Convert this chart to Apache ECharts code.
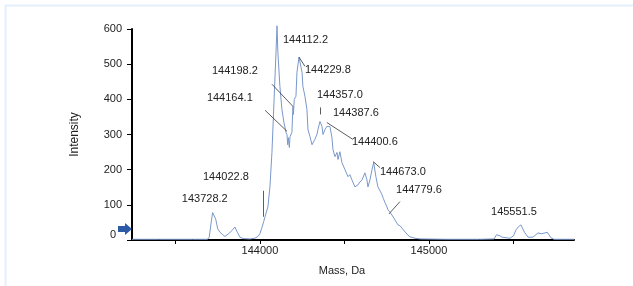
<!DOCTYPE html>
<html>
<head>
<meta charset="utf-8">
<script src="https://cdn.jsdelivr.net/npm/echarts@6/dist/echarts.min.js"></script>
<style>
  html, body { margin: 0; padding: 0; background: #fff; }
  #chart { width: 633px; height: 286px; }
</style>
</head>
<body>
<div id="chart"></div>
<script>
// spectrum trace: [mass Da, intensity]
const spectrum = [
  [143243, 2], [143400, 2], [143600, 2], [143690, 2], [143700, 8], [143710, 45],
  [143720, 78], [143728, 80], [143738, 60], [143750, 32], [143763, 22], [143780, 15],
  [143793, 10], [143820, 20], [143840, 30], [143852, 37], [143866, 22], [143882, 8],
  [143900, 4], [143940, 3], [143970, 5], [143988, 10], [144000, 18], [144012, 36],
  [144022, 52], [144030, 66], [144047, 94], [144059, 151], [144071, 249], [144083, 391],
  [144095, 534], [144101, 609], [144106, 534], [144118, 437], [144130, 371], [144142, 334],
  [144154, 306], [144160, 300], [144164, 271], [144168, 291], [144174, 263], [144178, 294],
  [144189, 306], [144195, 380], [144198, 357], [144203, 400], [144213, 409], [144219, 477],
  [144231, 520], [144249, 477], [144254, 437], [144266, 409], [144278, 371], [144284, 314],
  [144296, 294], [144308, 271], [144314, 266], [144325, 286], [144337, 300], [144343, 314],
  [144355, 337], [144367, 323], [144373, 300], [144385, 314], [144396, 323], [144402, 320],
  [144414, 323], [144426, 291], [144432, 257], [144444, 237], [144456, 249], [144462, 229],
  [144473, 251], [144485, 220], [144503, 200], [144521, 180], [144532, 186], [144544, 171],
  [144562, 151], [144580, 157], [144592, 165], [144604, 171], [144621, 191], [144633, 171],
  [144639, 151], [144651, 171], [144663, 200], [144673, 220], [144686, 180], [144698, 151],
  [144710, 140], [144722, 129], [144730, 118], [144740, 106], [144750, 96], [144757, 86],
  [144768, 80], [144781, 71], [144790, 66], [144799, 57], [144808, 52], [144817, 43],
  [144830, 40], [144840, 34], [144850, 28], [144858, 23], [144875, 14], [144888, 9],
  [144917, 5], [144950, 3], [145100, 2], [145300, 2], [145385, 3], [145400, 15],
  [145408, 20], [145420, 12], [145432, 8], [145479, 5], [145500, 12], [145515, 29],
  [145530, 38], [145544, 43], [145565, 22], [145586, 8], [145615, 8], [145645, 20],
  [145665, 18], [145686, 20], [145700, 22], [145710, 20], [145722, 6], [145740, 2],
  [145858, 2]
];

// peak labels: [text, label mass, label intensity]
const peakLabels = [
  ['144112.2', 144136, 569],
  ['144229.8', 144266, 483],
  ['144357.0', 144337, 413],
  ['144387.6', 144432, 360],
  ['144400.6', 144544, 280],
  ['144673.0', 144710, 194],
  ['144779.6', 144805, 143],
  ['145551.5', 145367, 80],
  ['144022.8', 143663, 180],
  ['143728.2', 143538, 117],
  ['144198.2', 143716, 480],
  ['144164.1', 143686, 403]
];

// leader lines: [[mass, intensity], [mass, intensity]]
const leaders = [
  [[144101, 609], [144136, 583]],
  [[144231, 520], [144266, 494]],
  [[144355, 377], [144355, 357]],
  [[144396, 334], [144550, 286]],
  [[144669, 223], [144710, 206]],
  [[144763, 74], [144828, 109]],
  [[144018, 140], [144018, 66]],
  [[144071, 443], [144195, 380]],
  [[144030, 369], [144160, 309]]
];

const massMin = 143243;
const massMax = 145858;
const massTicks = [143500, 144000, 144500, 145000, 145500];
const massTickLabels = [144000, 145000];

const chart = echarts.init(document.getElementById('chart'));
const font = 'Liberation Sans, Arial, sans-serif';

chart.setOption({
  animation: false,
  backgroundColor: '#fff',
  graphic: [{
    type: 'rect',
    shape: { x: 5.5, y: 5.5, width: 700, height: 400 },
    style: { fill: 'none', stroke: '#e4effb', lineWidth: 2 },
    silent: true
  }],
  grid: { left: 132, right: 59, top: 29, bottom: 46 },
  xAxis: {
    type: 'value',
    min: massMin,
    max: massMax,
    name: 'Mass, Da',
    nameLocation: 'middle',
    nameGap: 25,
    nameTextStyle: { fontFamily: font, fontSize: 11, color: '#222', padding: [0, 22, 0, 0] },
    splitLine: { show: false },
    axisLine: { lineStyle: { color: '#000', width: 2 } },
    axisTick: { customValues: massTicks, length: 4, lineStyle: { color: '#000' } },
    axisLabel: {
      customValues: massTickLabels, fontFamily: font, fontSize: 11, color: '#222', margin: 5,
      formatter: v => String(v)
    }
  },
  yAxis: {
    type: 'value',
    min: 0,
    max: 600,
    interval: 100,
    name: 'Intensity',
    nameLocation: 'middle',
    nameGap: 51,
    nameTextStyle: { fontFamily: font, fontSize: 12, color: '#222' },
    splitLine: { show: false },
    axisLine: { show: true, lineStyle: { color: '#000', width: 2 } },
    axisTick: { show: true, length: 5, lineStyle: { color: '#000' } },
    axisLabel: {
      fontFamily: font, fontSize: 11, color: '#222', margin: 10,
      formatter: v => v === 0 ? '{z|0}' : String(v),
      rich: { z: { fontFamily: font, fontSize: 11, color: '#222', padding: [0, 6, 10, 0] } }
    }
  },
  series: [{
    type: 'line',
    data: spectrum,
    symbol: 'none',
    clip: false,
    lineStyle: { color: '#7a98cb', width: 1 },
    markLine: {
      silent: true,
      symbol: 'none',
      label: { show: false },
      lineStyle: { color: '#333', width: 0.8, type: 'solid' },
      data: leaders.map(([a, b]) => [{ coord: a }, { coord: b }])
    },
    markPoint: {
      silent: true,
      data: peakLabels.map(([t, m, i]) => ({
        coord: [m, i],
        symbol: 'circle',
        symbolSize: 0,
        label: {
          show: true, formatter: t, position: 'right', distance: 0,
          fontFamily: font, fontSize: 11, color: '#222'
        }
      })).concat([{
        coord: [massMin, 31],
        symbol: 'path://M0,3 L6,3 L6,0 L12,6 L6,12 L6,9 L0,9 Z',
        symbolSize: [14, 12],
        symbolOffset: [-7, 0],
        itemStyle: { color: '#2c5aa6' },
        label: { show: false }
      }])
    }
  }]
});
</script>
</body>
</html>
